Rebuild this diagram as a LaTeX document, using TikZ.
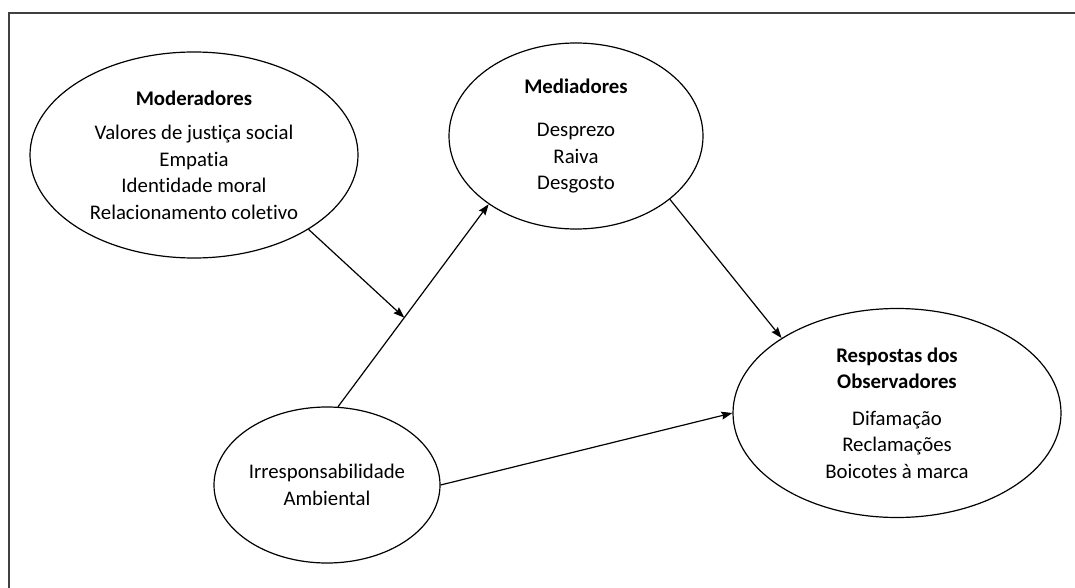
\documentclass[tikz,border=0pt]{standalone}
\usepackage{fontspec}
\setmainfont[Ligatures=NoCommon]{Carlito}
\usetikzlibrary{arrows.meta,shapes.geometric}
\begin{document}
\begin{tikzpicture}[x=1pt,y=-1pt,
  oval/.style={draw, ellipse, line width=1.2pt, inner sep=0pt, align=center,
    font=\fontsize{20.8}{26.5}\selectfont},
  arr/.style={draw, line width=1.2pt, -{Stealth[length=11pt,width=8pt,inset=1.5pt]}},
  frameline/.style={draw=black!75, line width=1.6pt}]
\useasboundingbox (0,0) rectangle (1075,588);
% frame, open on the right and at the bottom
\draw[frameline] (9,588) -- (9,13) -- (1075,13);

\node[oval, minimum width=328pt, minimum height=206pt] (mod) at (194,155)
  {\textbf{Moderadores}\\[8pt] Valores de justiça social\\ Empatia\\ Identidade moral\\ Relacionamento coletivo};
\node[oval, minimum width=254pt, minimum height=186pt] (med) at (576,136)
  {\textbf{Mediadores}\\[17pt] Desprezo\\ Raiva\\ Desgosto};
\node[oval, minimum width=328pt, minimum height=209pt] (resp) at (897,413)
  {\textbf{Respostas dos}\\ \textbf{Observadores}\\[10pt] Difamação\\ Reclamações\\ Boicotes à marca};
\node[oval, minimum width=226pt, minimum height=156pt] (irr) at (327,485)
  {Irresponsabilidade\\ Ambiental};

\draw[arr] (irr.82) -- coordinate[pos=0.44] (join) (med.218);
\draw[arr] (mod.327) -- (join);
\draw[arr] (med.326) -- (resp.147);
\draw[arr] (irr.0) -- (resp.180);
\end{tikzpicture}
\end{document}
